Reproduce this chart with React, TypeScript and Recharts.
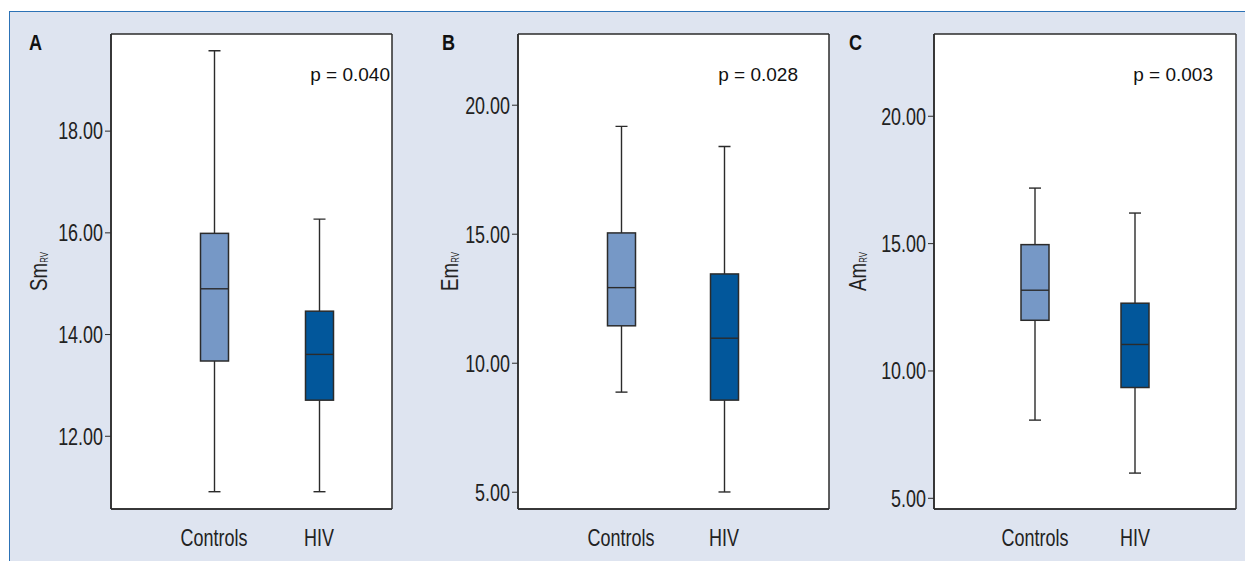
import React from 'react';
import { ComposedChart, Bar, XAxis, YAxis, CartesianGrid } from 'recharts';

// ---------- data ----------
const categories = ['Controls', 'HIV'];

const smMin = [10.91, 10.91];
const smQ1 = [13.48, 12.71];
const smMed = [14.9, 13.61];
const smQ3 = [15.99, 14.46];
const smMax = [19.58, 16.27];
const smTicks = [12, 14, 16, 18];

const emMin = [8.88, 5.01];
const emQ1 = [11.45, 8.57];
const emMed = [12.93, 10.97];
const emQ3 = [15.05, 13.46];
const emMax = [19.18, 18.4];
const emTicks = [5, 10, 15, 20];

const amMin = [8.07, 5.99];
const amQ1 = [11.99, 9.35];
const amMed = [13.17, 11.04];
const amQ3 = [14.96, 12.66];
const amMax = [17.18, 16.2];
const amTicks = [5, 10, 15, 20];

const pValues = ['p = 0.040', 'p = 0.028', 'p = 0.003'];
const panelLetters = ['A', 'B', 'C'];
const axisNames = ['Sm', 'Em', 'Am'];
const axisSub = 'RV';

const boxColors = ['#7698c6', '#02579b'];

const FONT = "'Liberation Sans', Arial, sans-serif";
const NARROW = 0.78;
const STROKE = '#2b2b2b';
const TEXT = '#222';

type Row = { name: string; range: [number, number]; min: number; q1: number; med: number; q3: number; max: number; idx: number };

function buildRows(mn: number[], q1: number[], md: number[], q3: number[], mx: number[]): Row[] {
  return categories.map((name, i) => ({
    name,
    range: [mn[i], mx[i]],
    min: mn[i],
    q1: q1[i],
    med: md[i],
    q3: q3[i],
    max: mx[i],
    idx: i,
  }));
}

const BoxShape = (props: any) => {
  const { x, y, width, height, payload } = props;
  if (payload == null) return null;
  const top = Math.min(y, y + height);
  const bottom = Math.max(y, y + height);
  const k = (bottom - top) / (payload.max - payload.min);
  const py = (v: number) => bottom - (v - payload.min) * k;
  const cx = x + width / 2;
  const cap = 6;
  const yq1 = py(payload.q1);
  const yq3 = py(payload.q3);
  const ym = py(payload.med);
  return (
    <g>
      <line x1={cx} x2={cx} y1={top} y2={yq3} stroke={STROKE} strokeWidth={1.4} />
      <line x1={cx} x2={cx} y1={yq1} y2={bottom} stroke={STROKE} strokeWidth={1.4} />
      <line x1={cx - cap} x2={cx + cap} y1={top} y2={top} stroke={STROKE} strokeWidth={1.4} />
      <line x1={cx - cap} x2={cx + cap} y1={bottom} y2={bottom} stroke={STROKE} strokeWidth={1.4} />
      <rect x={x} y={yq3} width={width} height={yq1 - yq3} fill={boxColors[payload.idx]} stroke={STROKE} strokeWidth={1.5} />
      <line x1={x} x2={x + width} y1={ym} y2={ym} stroke={STROKE} strokeWidth={1.4} />
    </g>
  );
};

const YTick = (props: any) => {
  const { x, y, payload } = props;
  return (
    <g transform={`translate(${x},${y})`}>
      <text transform={`scale(${NARROW},1)`} textAnchor="end" dy="0.36em" fontFamily={FONT} fontSize={23} fill={TEXT}>
        {Number(payload.value).toFixed(2)}
      </text>
    </g>
  );
};

const XTick = (props: any) => {
  const { x, y, payload } = props;
  return (
    <g transform={`translate(${x},${y})`}>
      <text transform={`scale(${NARROW},1)`} textAnchor="middle" dy="0.72em" fontFamily={FONT} fontSize={23} fill={TEXT}>
        {payload.value}
      </text>
    </g>
  );
};

type PanelCfg = {
  left: number;
  width: number;
  marginLeft: number;
  marginRight: number;
  padL: number;
  padR: number;
  domain: [number, number];
  ticks: number[];
  rows: Row[];
  labelX: number; // baseline x of rotated label, relative to chart
  letterX: number;
  pRight: number;
  k: number;
};

const panels: PanelCfg[] = [
  {
    left: 0, width: 420, marginLeft: 51, marginRight: 28, padL: 50.5, padR: 20.5,
    domain: [10.57, 19.91], ticks: smTicks, rows: buildRows(smMin, smQ1, smMed, smQ3, smMax),
    labelX: 47, letterX: 29, pRight: 390, k: 0,
  },
  {
    left: 420, width: 420, marginLeft: 38, marginRight: 11, padL: 51.5, padR: 53.5,
    domain: [4.35, 22.76], ticks: emTicks, rows: buildRows(emMin, emQ1, emMed, emQ3, emMax),
    labelX: 38, letterX: 22, pRight: 378, k: 1,
  },
  {
    left: 840, width: 405, marginLeft: 34, marginRight: 9, padL: 51, padR: 51,
    domain: [4.58, 23.23], ticks: amTicks, rows: buildRows(amMin, amQ1, amMed, amQ3, amMax),
    labelX: 26, letterX: 9, pRight: 373, k: 2,
  },
];

const TOP = 34;
const BOTTOM = 509;
const H = 561;
const XAXIS_H = 40;

function Panel({ cfg }: { cfg: PanelCfg }) {
  const midY = (TOP + BOTTOM) / 2;
  return (
    <div style={{ position: 'absolute', left: cfg.left, top: 0, width: cfg.width, height: H }}>
      <ComposedChart
        width={cfg.width}
        height={H}
        data={cfg.rows}
        margin={{ top: TOP, right: cfg.marginRight, left: cfg.marginLeft, bottom: H - BOTTOM - XAXIS_H }}
      >
        <CartesianGrid
          fill="#ffffff"
          stroke={STROKE}
          strokeWidth={1.5}
          horizontalCoordinatesGenerator={(p: any) => [p.offset.top, p.offset.top + p.offset.height]}
          verticalCoordinatesGenerator={(p: any) => [p.offset.left, p.offset.left + p.offset.width]}
        />
        <XAxis
          dataKey="name"
          height={XAXIS_H}
          padding={{ left: cfg.padL, right: cfg.padR }}
          axisLine={{ stroke: STROKE, strokeWidth: 1.5 }}
          tickLine={false}
          tickSize={0}
          tickMargin={20}
          tick={XTick}
        />
        <YAxis
          type="number"
          width={60}
          domain={cfg.domain}
          allowDataOverflow
          ticks={cfg.ticks}
          tickSize={6}
          tickMargin={2}
          axisLine={{ stroke: STROKE, strokeWidth: 1.5 }}
          tickLine={{ stroke: STROKE, strokeWidth: 1 }}
          tick={YTick}
          label={{
            content: () => (
              <g transform={`translate(${cfg.labelX},${midY}) rotate(-90) scale(${NARROW},1)`}>
                <text x={0} y={0} textAnchor="middle" fontFamily={FONT} fontSize={24} fill={TEXT}>
                  {axisNames[cfg.k]}
                  <tspan fontSize={10} dy={1}>{axisSub}</tspan>
                </text>
              </g>
            ),
          }}
        />
        <Bar dataKey="range" barSize={28} shape={BoxShape} isAnimationActive={false} />
      </ComposedChart>
      <div
        style={{
          position: 'absolute', left: cfg.letterX, top: 31, fontFamily: FONT, fontWeight: 'bold',
          fontSize: 22, color: '#111', lineHeight: '24px', transform: `scaleX(0.82)`, transformOrigin: '0 0',
        }}
      >
        {panelLetters[cfg.k]}
      </div>
      <div
        style={{
          position: 'absolute', right: cfg.width - cfg.pRight, top: 64, fontFamily: FONT,
          fontSize: 19, color: '#111', lineHeight: '22px', whiteSpace: 'nowrap',
        }}
      >
        {pValues[cfg.k]}
      </div>
    </div>
  );
}

export default function App() {
  return (
    <div style={{ position: 'fixed', left: 0, top: 0, width: 1245, height: 561, background: '#ffffff', overflow: 'hidden' }}>
      <div
        style={{
          position: 'absolute', left: 9, top: 11, right: 0, bottom: 0, background: '#dee4f0',
          borderTop: '1.5px solid #2c72b6', borderLeft: '1.5px solid #2c72b6',
        }}
      />
      {panels.map((p) => (
        <Panel key={p.k} cfg={p} />
      ))}
    </div>
  );
}
